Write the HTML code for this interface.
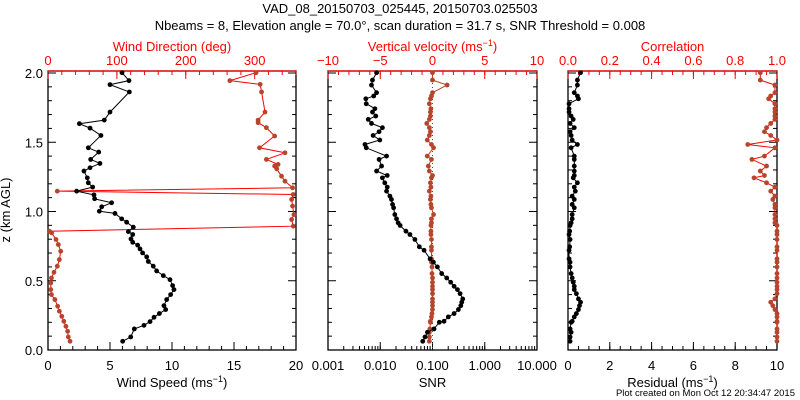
<!DOCTYPE html>
<html><head><meta charset="utf-8"><style>
body{margin:0;background:#fff;}
svg{display:block;font-family:"Liberation Sans",sans-serif;}
</style></head><body>
<svg id="c" width="800" height="400" viewBox="0 0 800 400">
<text x="400" y="13" text-anchor="middle" font-size="13">VAD_08_20150703_025445, 20150703.025503</text>
<text x="400" y="30" text-anchor="middle" font-size="13">Nbeams = 8, Elevation angle = 70.0°, scan duration = 31.7 s, SNR Threshold = 0.008</text>
<text x="10" y="210" text-anchor="middle" font-size="13" transform="rotate(-90 10 210)">z (km AGL)</text>
<text x="795" y="396" text-anchor="end" font-size="9.5">Plot created on Mon Oct 12 20:34:47 2015</text>
</svg>
<script>
// Panel 1 data
const wsHeights=[.063,.094,.152,.178,.205,.236,.263,.292,.320,.364,.400,.436,.465,.508,.537,.571,.605,.639,.672,.701,.730,.757,.778,.802,.834,.855,.887,.923,.947,.986,1.002,1.034,1.063,1.092,1.120,1.147,1.176,1.207,1.243,1.292,1.316,1.347,1.376,1.429,1.460,1.549,1.602,1.634,1.660,1.718,1.863,1.916,1.945,2.002];
const windSpeed=[6.02,6.67,6.96,7.74,8.23,8.55,8.98,9.49,9.35,9.57,9.89,10.16,10.05,9.84,9.30,8.76,8.49,8.09,7.96,7.63,7.42,7.23,6.83,6.69,6.83,6.48,6.88,6.34,5.94,5.40,4.14,4.33,5.13,3.76,3.71,2.31,3.60,3.25,3.17,2.90,3.39,4.19,3.44,4.09,3.25,4.27,3.39,2.53,4.54,5.00,6.56,5.00,6.53,5.97];
const dirHeights=[.063,.094,.135,.171,.207,.243,.280,.316,.364,.400,.436,.484,.520,.561,.605,.653,.713,.761,.798,.846,.858,.894,.942,.978,1.039,1.087,1.123,1.147,1.171,1.219,1.255,1.308,1.328,1.340,1.376,1.424,1.460,1.545,1.605,1.641,1.660,1.718,1.863,1.918,1.945,2.002];
const windDir=[32,29.5,28.5,26,23,20,16.5,14,10,5,4,4,5,8.7,13.5,16.5,18.4,15,11.6,5.3,2,356,353.6,357,355,353.6,356,13.5,355,344,339,332,329,334,317,344,307,329,317,305,305,315,310,308,264,302];
// Panels 2/3 data
const heights=[.063,.094,.128,.152,.200,.207,.239,.263,.292,.320,.345,.369,.407,.436,.460,.489,.520,.552,.600,.634,.658,.720,.745,.798,.834,.858,.899,.918,.947,.978,1.027,1.051,1.087,1.111,1.147,1.176,1.207,1.243,1.260,1.292,1.328,1.376,1.400,1.460,1.484,1.516,1.549,1.576,1.605,1.636,1.665,1.689,1.718,1.742,1.778,1.814,1.834,1.858,1.913,1.949,2.002];
const snr=[0.065,0.072,0.080,0.107,0.135,0.166,0.201,0.259,0.313,0.348,0.363,0.379,0.337,0.300,0.259,0.223,0.187,0.150,0.124,0.104,0.090,0.069,0.056,0.046,0.037,0.031,0.024,0.022,0.0205,0.019,0.018,0.0172,0.0164,0.0153,0.0132,0.0136,0.0122,0.0110,0.0136,0.0085,0.0106,0.0095,0.0132,0.0054,0.0051,0.0098,0.0073,0.0095,0.0110,0.0068,0.0059,0.0082,0.0071,0.0079,0.0054,0.0053,0.0075,0.0085,0.0068,0.0071,0.0085];
const vertVel=[-0.3,-0.3,-0.3,-0.25,-0.2,-0.2,-0.1,-0.05,0,0,0,0,0,0,0,0,0,-0.05,-0.05,-0.1,-0.1,-0.1,-0.1,-0.1,-0.15,-0.15,-0.15,-0.1,-0.1,0.1,-0.1,-0.15,-0.2,-0.15,-0.3,-0.15,-0.2,-0.1,0.0,-0.3,-0.4,-0.1,-0.5,0.1,-0.1,-0.5,-0.3,-0.2,-0.3,-0.55,-0.3,-0.2,-0.2,-0.15,-0.3,-0.2,-0.1,0.0,1.4,0.0,0.0];
const residual=[0.1,0.1,0.15,0.1,0.15,0.2,0.3,0.4,0.5,0.55,0.6,0.5,0.4,0.3,0.3,0.25,0.2,0.15,0.1,0.1,0.05,0.05,0.08,0.1,0.05,0.08,0.1,0.15,0.2,0.2,0.3,0.2,0.3,0.2,0.35,0.3,0.45,0.25,0.3,0.3,0.3,0.3,0.3,0.15,0.45,0.2,0.15,0.1,0.3,0.1,0.25,0.15,0.05,0.05,0.05,0.5,0.45,0.3,0.45,0.45,0.6];
const correlation=[1,1,1,1,1,1,1,1,0.99,0.98,0.97,0.99,1,1,1,1,1,1,1,1,1,1,1,1,1,1,1,0.99,0.99,0.99,0.99,0.99,0.98,0.99,0.97,0.99,0.95,0.89,0.94,0.92,0.95,0.88,0.94,0.99,0.86,1.0,0.97,0.94,0.95,0.97,0.99,0.99,0.99,0.99,0.99,0.96,0.97,0.99,0.99,0.92,0.92];
const yTicks=['0.0','0.5','1.0','1.5','2.0'];

const svg=document.getElementById('c');
const NS='http://www.w3.org/2000/svg';
const TOP=71,BOT=350;
function Y(z){return BOT-z*138.5;}
function mk(tag,a,parent){const e=document.createElementNS(NS,tag);for(const k in a)e.setAttribute(k,a[k]);(parent||svg).appendChild(e);return e;}
const BROWN='#b5452b',RED='#ff0000';

function panel(name,x0,x1,bot,top){
  const g=mk('g',{});
  
  
  const r=mk('rect',{x:x0,y:TOP,width:x1-x0,height:BOT-TOP,fill:'none',stroke:'#000','stroke-width':1.3},g);
  
  
  // bottom axis
  bot.minor.forEach(v=>{const x=bot.f(v);mk('line',{x1:x,x2:x,y1:BOT,y2:BOT-4,stroke:'#000'},g);});
  bot.major.forEach((v,i)=>{const x=bot.f(v);mk('line',{x1:x,x2:x,y1:BOT,y2:BOT-8,stroke:'#000'},g);
    const t=mk('text',{x:x,y:370,'text-anchor':'middle','font-size':13},g);t.textContent=bot.labels[i];
    
    });
  // top axis
  mk('line',{x1:x0,x2:x1,y1:TOP,y2:TOP,stroke:RED,'stroke-width':1.3},g);
  top.minor.forEach(v=>{const x=top.f(v);mk('line',{x1:x,x2:x,y1:TOP,y2:TOP+4,stroke:RED},g);});
  top.major.forEach((v,i)=>{const x=top.f(v);mk('line',{x1:x,x2:x,y1:TOP,y2:TOP+8,stroke:RED},g);
    const t=mk('text',{x:x,y:65,'text-anchor':'middle','font-size':13,fill:RED},g);t.textContent=top.labels[i];
    
    });
  // y ticks
  for(let i=0;i<=20;i++){const z=i/10,y=Y(z),L=(i%5==0)?8:4;
    mk('line',{x1:x0,x2:x0+L,y1:y,y2:y,stroke:'#000'},g);mk('line',{x1:x1,x2:x1-L,y1:y,y2:y,stroke:'#000'},g);}
  const bt=mk('text',{x:(x0+x1)/2,y:387,'text-anchor':'middle','font-size':13},g);bt.innerHTML=bot.title;
  
  
  const tt=mk('text',{x:(x0+x1)/2,y:51,'text-anchor':'middle','font-size':13,fill:RED},g);tt.innerHTML=top.title;
  
  
  return g;
}
function range(a,b,s){const r=[];for(let v=a;v<=b+1e-9;v+=s)r.push(+v.toFixed(6));return r;}
function series(g,name,xs,zs,fx,col,lineCol){
  const n=Math.min(xs.length,zs.length);let d='';
  for(let i=0;i<n;i++)d+=(i?'L':'M')+fx(xs[i]).toFixed(1)+' '+Y(zs[i]).toFixed(1);
  const p=mk('path',{d:d,fill:'none',stroke:lineCol,'stroke-width':1},g);
  
  
  for(let i=0;i<n;i++){const c=mk('circle',{cx:fx(xs[i]),cy:Y(zs[i]),r:2.4,fill:col},g);
    
    }
}
// Panel 1
const fWS=v=>48+v*12.4, fDir=v=>48+v*248/360;
const g1=panel('wind',48,296,
 {f:fWS,major:[0,5,10,15,20],labels:['0','5','10','15','20'],minor:range(0,20,1),title:'Wind Speed (ms<tspan dy="-5" font-size="9">−1</tspan><tspan dy="5">)</tspan>'},
 {f:fDir,major:[0,100,200,300],labels:['0','100','200','300'],minor:range(0,360,20),title:'Wind Direction (deg)'});
yTicks.forEach((l,i)=>{const t=mk('text',{x:43,y:Y(i*0.5)+5,'text-anchor':'end','font-size':13},g1);t.textContent=l;
  
  });
series(g1,'wind-direction',windDir,dirHeights,fDir,BROWN,RED);
series(g1,'wind-speed',windSpeed,wsHeights,fWS,'#000','#000');
// Panel 2
const fSNR=v=>328+(Math.log10(v)+3)*209/4, fVV=v=>328+(v+10)*209/20;
const snrMinor=[];for(let d=-3;d<1;d++)for(let m=1;m<10;m++)snrMinor.push(m*Math.pow(10,d));
const g2=panel('snr',328,537,
 {f:fSNR,major:[0.001,0.01,0.1,1,10],labels:['0.001','0.010','0.100','1.000','10.000'],minor:snrMinor,title:'SNR'},
 {f:fVV,major:[-10,-5,0,5,10],labels:['−10','−5','0','5','10'],minor:range(-10,10,1),title:'Vertical velocity (ms<tspan dy="-5" font-size="9">−1</tspan><tspan dy="5">)</tspan>'});
const zl=mk('line',{x1:fVV(0),x2:fVV(0),y1:TOP,y2:BOT,stroke:RED,'stroke-dasharray':'1 3'},g2);


series(g2,'vertical-velocity',vertVel,heights,fVV,BROWN,BROWN);
series(g2,'snr',snr,heights,fSNR,'#000','#000');
// Panel 3
const fRes=v=>568+v*20.9, fCor=v=>568+v*209;
const g3=panel('residual',568,777,
 {f:fRes,major:[0,2,4,6,8,10],labels:['0','2','4','6','8','10'],minor:range(0,10,0.5),title:'Residual (ms<tspan dy="-5" font-size="9">−1</tspan><tspan dy="5">)</tspan>'},
 {f:fCor,major:[0,0.2,0.4,0.6,0.8,1.0],labels:['0.0','0.2','0.4','0.6','0.8','1.0'],minor:range(0,1,0.05),title:'Correlation'});
series(g3,'correlation',correlation,heights,fCor,BROWN,RED);
series(g3,'residual',residual,heights,fRes,'#000','#000');
</script>
</body></html>
